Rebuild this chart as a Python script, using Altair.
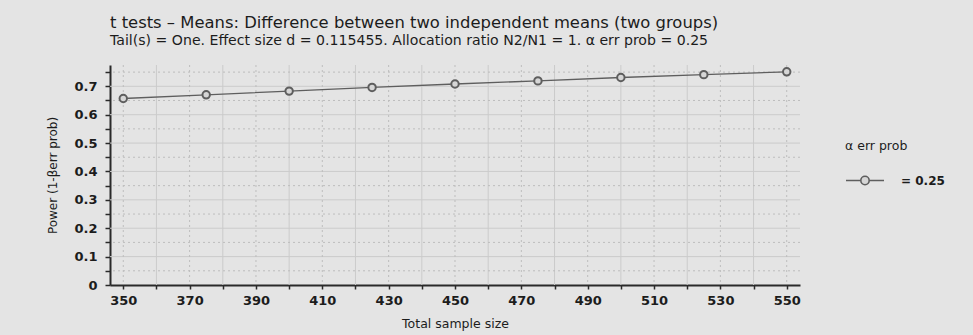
import altair as alt
import pandas as pd

# Power curve: total sample size vs. power (1 - beta), alpha = 0.25
sample_size = [350, 375, 400, 425, 450, 475, 500, 525, 550]
power = [0.657, 0.670, 0.683, 0.696, 0.708, 0.719, 0.731, 0.741, 0.751]
alpha_label = "= 0.25"

# tick positions and grid lines
x_ticks = [350, 360, 370, 380, 390, 400, 410, 420, 430, 440, 450,
           460, 470, 480, 490, 500, 510, 520, 530, 540, 550]
x_grid_solid = [360, 380, 400, 420, 440, 460, 480, 500, 520, 540]
x_grid_dotted = [350, 370, 390, 410, 430, 450, 470, 490, 510, 530, 550]
y_ticks = [0, 0.05, 0.1, 0.15, 0.2, 0.25, 0.3, 0.35, 0.4, 0.45, 0.5,
           0.55, 0.6, 0.65, 0.7, 0.75]
y_grid_solid = [0.1, 0.2, 0.3, 0.4, 0.5, 0.6, 0.7]
y_grid_dotted = [0.05, 0.15, 0.25, 0.35, 0.45, 0.55, 0.65, 0.75]

BG = "#e4e4e4"
INK = "#1c1c1c"
FONT = "DejaVu Sans"

df = pd.DataFrame({"n": sample_size, "power": power, "alpha": [alpha_label] * len(sample_size)})

x_scale = alt.Scale(domain=[346, 554], nice=False, zero=False)
y_scale = alt.Scale(domain=[0, 0.775], nice=False, zero=False)

x_axis = alt.Axis(
    values=x_ticks,
    labelExpr="(datum.value - 350) % 20 == 0 ? datum.label : ''",
    grid=False, tickSize=4, tickWidth=1.5, tickColor="#2a2a2a",
    domainColor="#2a2a2a", domainWidth=2, labelPadding=5,
    labelFont=FONT, labelFontSize=13, labelFontWeight="bold", labelColor=INK,
    title="Total sample size", titleFont=FONT, titleFontSize=12.5,
    titleFontWeight="normal", titleColor=INK, titlePadding=10,
)
y_axis = alt.Axis(
    values=y_ticks,
    labelExpr="round(datum.value * 100) % 10 == 0 ? format(datum.value, '~g') : ''",
    grid=False, tickSize=5, tickWidth=1.5, tickColor="#2a2a2a",
    domainColor="#2a2a2a", domainWidth=2, labelPadding=8,
    labelFont=FONT, labelFontSize=13, labelFontWeight="bold", labelColor=INK,
    title="Power (1-βerr prob)", titleFont=FONT, titleFontSize=12,
    titleFontWeight="normal", titleColor=INK, titlePadding=14,
)


def xenc(field):
    return alt.X(f"{field}:Q", scale=x_scale, axis=x_axis)


def yenc(field):
    return alt.Y(f"{field}:Q", scale=y_scale, axis=y_axis)


vgrid_solid = alt.Chart(pd.DataFrame({"gx": x_grid_solid})).mark_rule(
    color="#cbcbcb", strokeWidth=1
).encode(x=xenc("gx"))
vgrid_dotted = alt.Chart(pd.DataFrame({"gx": x_grid_dotted})).mark_rule(
    color="#bdbdbd", strokeWidth=1, strokeDash=[2, 3]
).encode(x=xenc("gx"))
hgrid_solid = alt.Chart(pd.DataFrame({"gy": y_grid_solid})).mark_rule(
    color="#cbcbcb", strokeWidth=1
).encode(y=yenc("gy"))
hgrid_dotted = alt.Chart(pd.DataFrame({"gy": y_grid_dotted})).mark_rule(
    color="#bdbdbd", strokeWidth=1, strokeDash=[2, 3]
).encode(y=yenc("gy"))

# legend glyph: a short line with an open circle in its middle
symbol_path = (
    "M-1,0L-0.22,0M0.22,0L1,0"
    "M0.22,0A0.22,0.22,0,1,1,-0.22,0A0.22,0.22,0,1,1,0.22,0"
)

color = alt.Color(
    "alpha:N",
    scale=alt.Scale(range=["#5e5e5e"]),
    legend=alt.Legend(
        title="α err prob", orient="none", legendX=735, legendY=75,
        titleFont=FONT, titleFontSize=12.5, titleFontWeight="normal", titleColor=INK,
        titlePadding=8,
        labelFont=FONT, labelFontSize=12, labelFontWeight="bold", labelColor=INK,
        labelOffset=16,
        symbolType=symbol_path, symbolSize=1444, symbolStrokeWidth=1.6,
        symbolStrokeColor="#5e5e5e", symbolFillColor="#d6d6d6",
    ),
)

line = alt.Chart(df).mark_line(strokeWidth=1.3).encode(
    x=xenc("n"), y=yenc("power"), color=color
)
points = alt.Chart(df).mark_point(
    shape="circle", size=55, strokeWidth=2, fill="#d6d6d6", fillOpacity=1, opacity=1
).encode(x=xenc("n"), y=yenc("power"), color=color)

chart = alt.layer(
    vgrid_solid, hgrid_solid, vgrid_dotted, hgrid_dotted, line, points
).properties(
    width=690,
    height=220,
    autosize=alt.AutoSizeParams(type="none"),
    padding={"left": 110, "top": 65, "right": 173, "bottom": 50},
    background=BG,
    title=alt.TitleParams(
        text="t tests – Means: Difference between two independent means (two groups)",
        subtitle="Tail(s) = One. Effect size d = 0.115455. Allocation ratio N2/N1 = 1. α err prob = 0.25",
        anchor="start", frame="group", offset=16,
        font=FONT, fontSize=16.4, fontWeight="normal", color=INK,
        subtitleFont=FONT, subtitleFontSize=14.1, subtitleColor=INK, subtitlePadding=3,
    ),
).configure_view(stroke=None)

chart.save("out.html", embed_options={"renderer": "svg", "actions": False})
